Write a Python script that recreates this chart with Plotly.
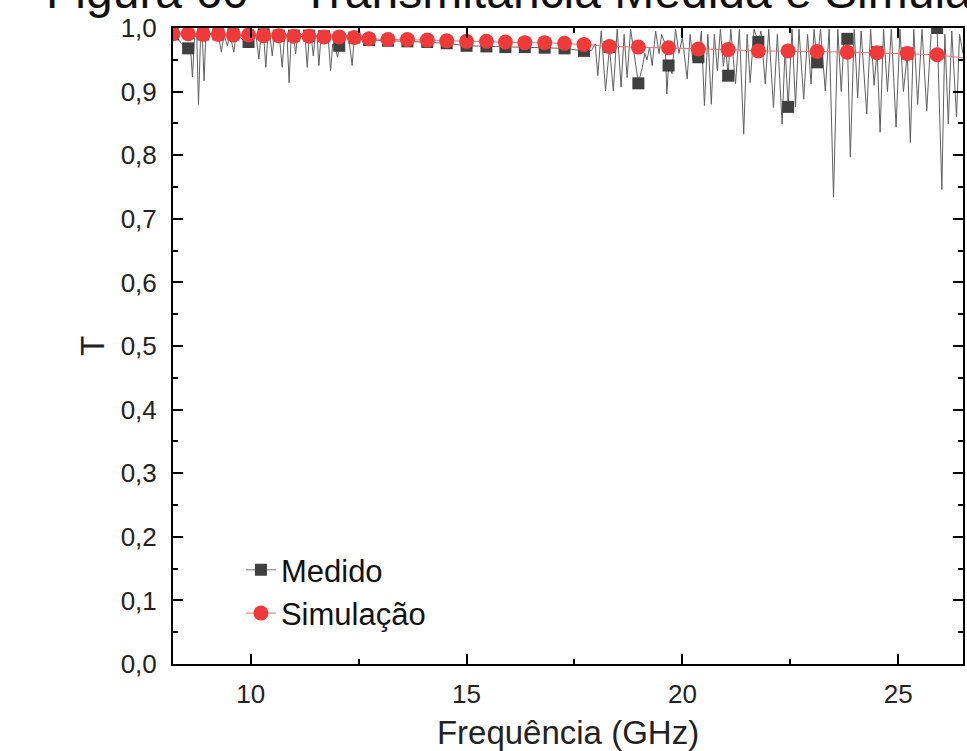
import plotly.graph_objects as go

# ---------------- data ----------------
# Medido: dense measured curve (GHz, T)
freq_med = [
    8.20, 8.30, 8.40, 8.50, 8.55, 8.60, 8.65, 8.70, 8.75, 8.79, 8.84, 8.88, 8.92, 8.96,
    9.05, 9.15, 9.25, 9.32, 9.38, 9.46, 9.52, 9.61, 9.66, 9.75, 9.85, 9.95, 10.05, 10.12,
    10.19, 10.24, 10.30, 10.35, 10.40, 10.45, 10.50, 10.55, 10.62, 10.68, 10.73, 10.78,
    10.84, 10.89, 10.94, 11.00, 11.04, 11.09, 11.18, 11.26, 11.31, 11.36, 11.40, 11.45,
    11.50, 11.54, 11.58, 11.63, 11.72, 11.80, 11.85, 11.90, 11.96, 12.01, 12.06, 12.12,
    12.20, 12.28, 12.35, 12.40,
    12.50, 12.74, 13.18, 13.63, 14.09, 14.54, 15.00, 15.46, 15.90, 16.35, 16.81, 17.27,
    17.72, 17.90,
    17.98, 18.04, 18.12, 18.22, 18.31, 18.40, 18.49, 18.58, 18.65, 18.72, 18.80, 18.88,
    18.98, 19.07, 19.13, 19.18, 19.24, 19.30, 19.38, 19.46, 19.52, 19.60, 19.64, 19.68,
    19.76, 19.84, 19.92, 20.00, 20.11, 20.18, 20.24, 20.30, 20.37, 20.44, 20.51, 20.59,
    20.67, 20.74, 20.81, 20.88, 20.95, 21.00, 21.06, 21.12, 21.23, 21.32, 21.42, 21.50,
    21.57, 21.66, 21.76, 21.82, 21.92, 22.00, 22.11, 22.20, 22.31, 22.38, 22.45, 22.54,
    22.62, 22.70, 22.81, 22.90, 22.98, 23.05, 23.12, 23.20, 23.31, 23.40, 23.50, 23.60,
    23.68, 23.75, 23.82, 23.89, 23.98, 24.06, 24.14, 24.27, 24.36, 24.44, 24.51, 24.58,
    24.66, 24.75, 24.84, 24.95, 25.04, 25.12, 25.21, 25.28, 25.36, 25.45, 25.55, 25.66,
    25.76, 25.90, 26.01, 26.08, 26.16, 26.24, 26.35, 26.42, 26.50,
]
t_med = [
    0.990, 0.985, 0.975, 0.968, 0.968, 0.975, 0.923, 0.985, 0.990, 0.880, 0.990, 0.985, 0.917, 0.990,
    0.992, 0.988, 0.990, 0.962, 0.990, 0.972, 0.990, 0.962, 0.990, 0.985, 0.980, 0.978, 0.985, 0.990,
    0.951, 0.990, 0.988, 0.938, 0.990, 0.985, 0.956, 0.990, 0.988, 0.975, 0.938, 0.985,
    0.990, 0.914, 0.990, 0.985, 0.959, 0.992, 0.990, 0.985, 0.938, 0.990, 0.988, 0.956,
    0.990, 0.985, 0.941, 0.990, 0.990, 0.980, 0.933, 0.975, 0.970, 0.954, 0.972, 0.988,
    0.990, 0.980, 0.941, 0.985,
    0.982, 0.981, 0.980, 0.979, 0.978, 0.976, 0.972, 0.971, 0.970, 0.970, 0.969, 0.968,
    0.964, 0.965,
    0.975, 0.925, 0.995, 0.901, 0.970, 0.901, 0.998, 0.907, 0.990, 0.922, 0.998, 0.960,
    0.913, 0.938, 0.960, 0.950, 0.970, 0.941, 0.995, 0.960, 0.990, 0.975, 0.896, 0.941,
    0.928, 0.998, 0.960, 0.985, 0.920, 0.990, 0.950, 0.975, 0.954, 0.995, 0.878, 0.990,
    0.880, 0.990, 0.933, 0.998, 0.940, 0.970, 0.925, 0.998, 0.912, 0.998, 0.833, 0.990,
    0.914, 0.998, 0.978, 0.995, 0.912, 0.998, 0.875, 0.990, 0.849, 0.970, 0.876, 0.998,
    0.876, 0.998, 0.888, 0.990, 0.912, 0.998, 0.946, 0.998, 0.901, 0.998, 0.734, 0.998,
    0.900, 0.990, 0.983, 0.797, 0.998, 0.890, 0.995, 0.865, 0.998, 0.910, 0.965, 0.836,
    0.998, 0.900, 0.998, 0.844, 0.998, 0.900, 0.960, 0.820, 0.998, 0.880, 0.998, 0.870,
    0.990, 1.000, 0.746, 0.990, 0.849, 0.995, 0.860, 0.990, 0.960,
]

# Medido: square symbol points
freq_med_mk = [
    8.20, 8.55, 8.90, 9.25, 9.60, 9.95, 10.30, 10.65, 11.00, 11.35, 11.70, 12.05, 12.40,
    12.74, 13.18, 13.63, 14.09, 14.54, 15.00, 15.46, 15.90, 16.35, 16.81, 17.27, 17.72,
    18.31, 18.98, 19.68, 20.37, 21.06, 21.76, 22.45, 23.12, 23.82, 24.51, 25.21, 25.90,
]
t_med_mk = [
    0.990, 0.968, 0.990, 0.990, 0.990, 0.978, 0.990, 0.988, 0.988, 0.988, 0.987, 0.972, 0.985,
    0.981, 0.980, 0.979, 0.978, 0.976, 0.972, 0.971, 0.970, 0.970, 0.969, 0.968, 0.964,
    0.970, 0.913, 0.941, 0.954, 0.925, 0.978, 0.876, 0.946, 0.983, 0.962, 0.960, 1.000,
]

# Simulação: circle symbol points
freq_sim = [
    8.20, 8.55, 8.90, 9.25, 9.60, 9.95, 10.30, 10.65, 11.00, 11.35, 11.70, 12.05, 12.40,
    12.74, 13.18, 13.63, 14.09, 14.54, 15.00, 15.46, 15.90, 16.35, 16.81, 17.27, 17.72,
    18.31, 18.98, 19.68, 20.37, 21.06, 21.76, 22.45, 23.12, 23.82, 24.51, 25.21, 25.90,
]
t_sim = [
    0.991, 0.991, 0.990, 0.990, 0.989, 0.989, 0.988, 0.988, 0.987, 0.987, 0.986, 0.986, 0.985,
    0.983, 0.982, 0.982, 0.981, 0.980, 0.979, 0.979, 0.978, 0.977, 0.977, 0.976, 0.974,
    0.971, 0.970, 0.969, 0.967, 0.966, 0.964, 0.964, 0.963, 0.962, 0.961, 0.960, 0.958,
]
freq_sim_end = [25.90, 26.50]
t_sim_end = [0.958, 0.953]

labels = ["Medido", "Simulação"]
title_text = "Figura 60 – Transmitância Medida e Simulada"

FONT = "Liberation Sans, Arial, sans-serif"
GRAY_LINE = "rgb(95,95,95)"
GRAY_MK = "rgb(64,64,64)"
RED = "rgb(240,58,58)"
RED_LINE = "rgb(245,110,110)"

fig = go.Figure()

# measured dense line
fig.add_trace(go.Scatter(x=freq_med, y=t_med, mode="lines",
                         line=dict(color=GRAY_LINE, width=1), showlegend=False,
                         hoverinfo="skip"))
# measured squares
fig.add_trace(go.Scatter(x=freq_med_mk, y=t_med_mk, mode="markers",
                         marker=dict(symbol="square", size=12, color=GRAY_MK),
                         showlegend=False))
# simulated line tail
fig.add_trace(go.Scatter(x=freq_sim_end, y=t_sim_end, mode="lines",
                         line=dict(color=RED_LINE, width=1), showlegend=False))
# simulated
fig.add_trace(go.Scatter(x=freq_sim, y=t_sim, mode="lines+markers",
                         line=dict(color=RED_LINE, width=1),
                         marker=dict(symbol="circle", size=15, color=RED),
                         showlegend=False))

# legend entries
fig.add_trace(go.Scatter(x=[None], y=[None], mode="lines+markers", name=labels[0],
                         line=dict(color="rgb(120,120,120)", width=1),
                         marker=dict(symbol="square", size=12, color=GRAY_MK)))
fig.add_trace(go.Scatter(x=[None], y=[None], mode="lines+markers", name=labels[1],
                         line=dict(color=RED_LINE, width=1),
                         marker=dict(symbol="circle", size=15, color=RED)))

axis_common = dict(
    showline=True, linecolor="black", linewidth=2, mirror="allticks",
    ticks="inside", ticklen=10, tickwidth=2, tickcolor="black",
    showgrid=False, zeroline=False,
    tickfont=dict(family=FONT, size=26, color="#222"),
)

fig.update_xaxes(
    range=[8.2, 26.5], dtick=5, tick0=0, automargin=True,
    minor=dict(dtick=2.5, ticks="inside", ticklen=5, tickwidth=2, tickcolor="black"),
    title=dict(text="Frequência (GHz)", font=dict(family=FONT, size=33, color="#222"),
               standoff=28),
    ticklabelstandoff=6,
    **axis_common,
)
fig.update_yaxes(
    range=[0, 1.0], dtick=0.1, tick0=0, tickformat=".1f", automargin=False,
    minor=dict(dtick=0.05, ticks="inside", ticklen=5, tickwidth=2, tickcolor="black"),
    title=dict(text="T", font=dict(family=FONT, size=33, color="#222"), standoff=6),
    ticklabelstandoff=9,
    **axis_common,
)

fig.add_annotation(text=title_text, xref="paper", yref="paper",
                   x=-0.163, y=1.058, xanchor="left", yanchor="middle",
                   showarrow=False, font=dict(family=FONT, size=48, color="#111"))

fig.update_layout(
    width=967, height=751,
    margin=dict(l=173, r=4, t=28, b=87, autoexpand=False),
    paper_bgcolor="white", plot_bgcolor="white",
    separators=",.",
    showlegend=True,
    legend=dict(x=0.086, y=0.19, xanchor="left", yanchor="top",
                bgcolor="rgba(0,0,0,0)",
                font=dict(family=FONT, size=31, color="#111")),
)

fig.write_html("out.html")
